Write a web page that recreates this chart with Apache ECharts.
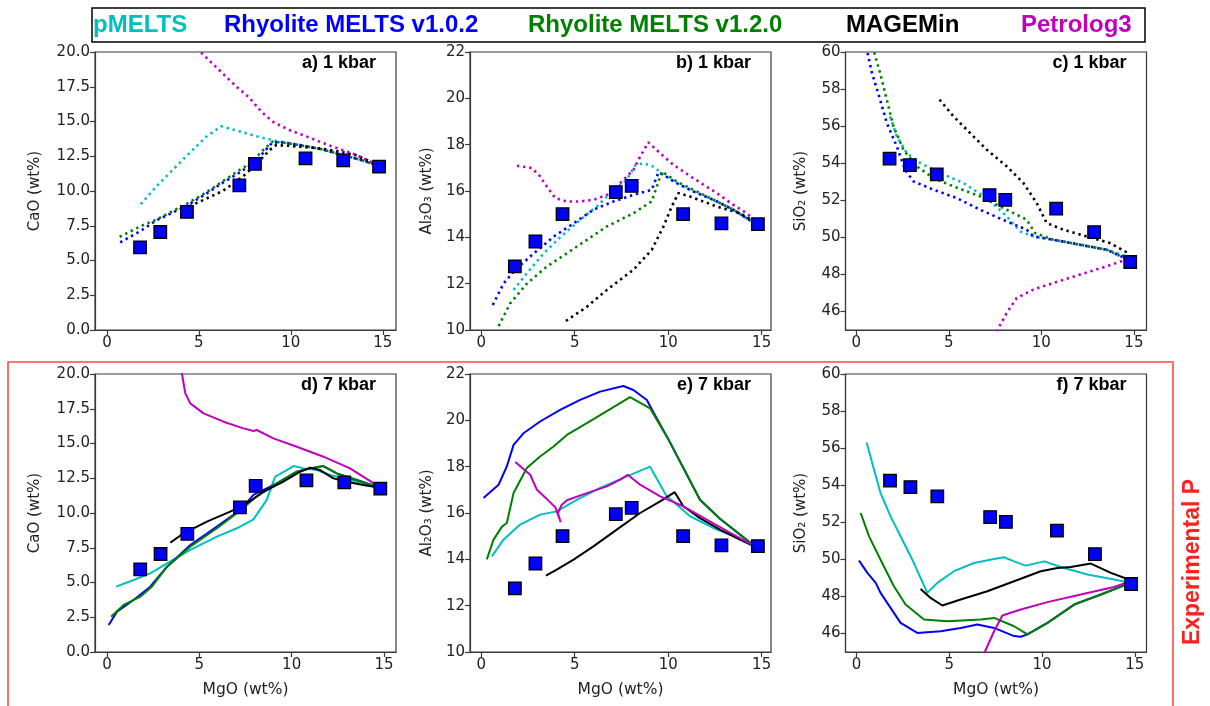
<!DOCTYPE html>
<html>
<head>
<meta charset="utf-8">
<script src="https://cdn.jsdelivr.net/npm/echarts@6/dist/echarts.min.js"></script>
<style>html,body{margin:0;padding:0;background:#fff;}#c{width:1210px;height:706px;}</style>
</head>
<body>
<div id="c"></div>
<script>
// ---------- DATA ----------
const modelNames = ['pMELTS', 'Rhyolite MELTS v1.0.2', 'Rhyolite MELTS v1.2.0', 'MAGEMin', 'Petrolog3'];
const panelLabels = ['a) 1 kbar', 'b) 1 kbar', 'c) 1 kbar', 'd) 7 kbar', 'e) 7 kbar', 'f) 7 kbar'];
const xTicks = [0, 5, 10, 15];
const caoTicks = [0, 2.5, 5, 7.5, 10, 12.5, 15, 17.5, 20];
const al2o3Ticks = [10, 12, 14, 16, 18, 20, 22];
const sio2Ticks = [46, 48, 50, 52, 54, 56, 58, 60];

// Experimental data
const expMgO = [1.8, 2.9, 4.35, 7.2, 8.05, 10.8, 12.85, 14.8];
const expCaO = [5.95, 7.05, 8.5, 10.4, 11.95, 12.35, 12.2, 11.75];
const expAl2O3 = [12.75, 13.82, 15.0, 15.95, 16.22, 15.0, 14.6, 14.57];
const expSiO2 = [54.25, 53.9, 53.4, 52.28, 52.02, 51.55, 50.28, 48.67];

// a) CaO 1 kbar
const cao1_pMELTS = [[1.84,9.05],[2.7,10.35],[3.6,11.55],[4.5,12.75],[5.4,13.9],[6.2,14.65],[7.2,14.3],[8.1,13.95],[9.2,13.6],[10.3,13.35],[11.7,13.0],[12.8,12.6],[13.9,12.25],[14.8,11.85]];
const cao1_rm102 = [[0.72,6.3],[1.8,7.1],[2.7,7.9],[4.3,8.9],[5.4,9.8],[6.3,10.6],[7.3,11.4],[8.1,12.15],[8.6,12.9],[9.0,13.5],[9.5,13.5],[10.5,13.3],[11.7,13.0],[12.8,12.6],[13.9,12.2],[14.8,11.8]];
const cao1_rm120 = [[0.69,6.7],[1.8,7.45],[2.7,7.95],[4.3,9.05],[5.4,9.9],[6.3,10.7],[7.2,11.5],[7.8,12.0],[8.5,12.95],[9.0,13.55],[9.5,13.5],[10.5,13.3],[11.7,13.0],[12.8,12.6],[13.9,12.2],[14.8,11.8]];
const cao1_mage = [[4.5,8.9],[5.4,9.45],[6.3,10.0],[7.4,11.05],[8.1,11.9],[8.85,12.95],[9.2,13.3],[9.9,13.25],[10.8,13.15],[11.7,13.05],[12.6,12.85],[13.5,12.6],[14.2,12.2],[14.8,11.8]];
const cao1_petro = [[4.9,20.3],[5.2,19.85],[6.3,18.45],[7.05,17.5],[7.75,16.7],[8.4,15.7],[9.0,15.0],[9.9,14.4],[10.8,13.95],[11.75,13.45],[12.8,12.95],[13.55,12.6],[14.25,12.15],[14.8,11.8]];

// b) Al2O3 1 kbar
const al1_pMELTS = [[1.73,11.73],[2.44,12.45],[3.33,13.3],[4.22,14.0],[5.29,14.75],[6.18,15.33],[6.9,15.9],[7.79,16.5],[8.23,17.1],[8.68,17.2],[9.21,17.05],[9.75,16.7],[10.46,16.34],[11.35,15.98],[12.42,15.62],[13.49,15.19],[14.6,14.62]];
const al1_rm102 = [[0.62,11.08],[1.19,12.0],[1.82,12.6],[2.8,13.3],[3.87,14.03],[4.94,14.6],[6.0,15.19],[7.07,15.55],[8.14,15.83],[9.12,16.05],[9.48,16.8],[9.75,16.7],[10.46,16.34],[11.35,15.98],[12.42,15.62],[13.49,15.19],[14.6,14.62]];
const al1_rm120 = [[0.93,10.17],[1.55,11.15],[2.44,12.0],[3.51,12.74],[4.58,13.31],[5.65,13.89],[6.72,14.47],[8.14,15.04],[9.12,15.55],[9.39,16.19],[9.66,16.84],[10.46,16.41],[11.7,15.91],[13.49,15.19],[14.6,14.62]];
const al1_mage = [[4.53,10.39],[5.65,11.0],[6.72,11.73],[8.14,12.6],[9.12,13.46],[9.75,14.47],[10.19,15.33],[10.55,15.91],[11.17,15.76],[12.6,15.33],[13.84,15.04],[14.64,14.68]];
const al1_petro = [[1.91,17.09],[2.71,16.99],[3.15,16.63],[3.51,16.19],[3.96,15.69],[4.58,15.55],[5.29,15.55],[6.0,15.62],[6.72,15.83],[7.43,16.34],[8.14,16.91],[8.5,17.49],[8.94,18.1],[9.57,17.63],[10.28,17.13],[11.35,16.55],[12.6,15.91],[13.49,15.4],[14.2,15.04],[14.73,14.68]];

// c) SiO2 1 kbar
const si1_pMELTS = [[1.83,56.53],[2.19,55.45],[2.73,54.55],[3.45,54.01],[4.53,53.47],[5.79,52.93],[7.05,52.12],[8.13,51.13],[8.85,50.32],[9.57,50.05],[10.65,49.87],[12.09,49.6],[13.53,49.33],[14.6,48.97],[14.8,48.75]];
const si1_rm102 = [[0.61,59.95],[0.85,58.87],[1.29,57.43],[1.65,56.17],[2.19,54.91],[2.64,53.65],[3.09,53.02],[4.17,52.57],[5.43,52.12],[6.69,51.49],[8.13,50.86],[9.21,50.41],[9.57,50.05],[10.65,49.87],[12.09,49.6],[13.53,49.33],[14.8,48.75]];
const si1_rm120 = [[0.97,59.98],[1.29,58.87],[1.65,57.43],[2.01,55.99],[2.55,54.73],[3.27,53.83],[4.17,53.2],[5.25,52.75],[6.69,52.21],[8.13,51.49],[9.21,50.95],[9.66,50.23],[10.65,49.87],[12.09,49.6],[13.53,49.33],[14.8,48.75]];
const si1_mage = [[4.5,57.43],[5.25,56.53],[6.15,55.63],[7.05,54.73],[8.13,53.83],[9.03,52.93],[9.75,51.85],[10.29,50.77],[11.19,50.41],[12.45,50.05],[13.71,49.69],[14.69,49.15]];
const si1_petro = [[7.45,44.6],[7.68,45.1],[8.13,45.92],[8.67,46.73],[9.57,47.18],[10.65,47.54],[12.09,47.99],[13.53,48.44],[14.6,48.8]];

// d) CaO 7 kbar
const cao7_pMELTS = [[0.5,4.7],[1.44,5.18],[2.34,5.66],[3.25,6.38],[4.51,7.34],[5.95,8.3],[7.03,8.9],[7.93,9.54],[8.65,10.94],[9.1,12.6],[9.73,13.09],[10.1,13.38],[10.64,13.21],[11.36,13.09],[12.08,12.73],[13.16,12.37],[14.24,12.01],[14.78,11.77]];
const cao7_rm102 = [[0.09,1.94],[0.54,2.9],[1.44,3.74],[2.34,4.7],[3.25,6.14],[4.51,7.7],[5.95,9.02],[7.21,10.22],[7.93,11.3],[9.19,12.13],[10.28,12.97],[11.0,13.21],[11.72,13.38],[12.44,12.85],[13.52,12.37],[14.78,11.82]];
const cao7_rm120 = [[0.22,2.54],[0.9,3.38],[1.8,3.98],[2.43,4.7],[3.25,6.14],[4.51,7.58],[5.95,8.9],[7.03,9.98],[8.11,11.18],[9.19,12.13],[10.28,12.97],[11.0,13.21],[11.72,13.38],[12.44,12.85],[13.52,12.37],[14.78,11.82]];
const cao7_mage = [[3.43,7.87],[4.15,8.54],[5.41,9.38],[6.67,10.1],[7.57,10.7],[8.47,11.53],[9.55,12.25],[10.46,12.97],[11.0,13.26],[11.54,13.09],[12.26,12.49],[12.98,12.25],[13.88,12.01],[14.78,11.82]];
const cao7_petro = [[3.95,21],[4.06,20],[4.24,18.61],[4.51,17.89],[5.23,17.17],[6.31,16.57],[7.39,16.09],[7.93,15.9],[8.11,15.97],[9.01,15.37],[10.28,14.77],[11.72,14.05],[13.16,13.21],[14.6,12.01],[14.78,11.82]];

// e) Al2O3 7 kbar
const al7_pMELTS = [[0.57,14.13],[1.19,14.85],[2.08,15.5],[3.15,15.93],[4.04,16.07],[5.11,16.57],[6.36,17.08],[7.79,17.58],[9.03,18.0],[9.92,16.72],[10.19,16.55],[11.17,15.86],[12.6,15.28],[13.49,15.0],[14.56,14.56]];
const al7_rm102 = [[0.12,16.65],[0.93,17.22],[1.37,18.01],[1.73,18.94],[2.26,19.44],[3.15,19.95],[4.22,20.45],[5.29,20.88],[6.36,21.24],[7.6,21.48],[8.14,21.31],[8.86,20.88],[9.21,20.35],[10.0,19.2],[11.7,16.57],[12.77,15.75],[14.64,14.56]];
const al7_rm120 = [[0.3,14.0],[0.66,14.85],[1.1,15.4],[1.37,15.57],[1.73,16.86],[2.44,17.94],[3.15,18.44],[3.87,18.87],[4.58,19.37],[5.65,19.88],[6.72,20.4],[7.96,21.0],[9.03,20.52],[10.0,19.2],[11.7,16.57],[12.77,15.75],[14.64,14.56]];
const al7_mage = [[3.46,13.3],[4.04,13.56],[4.94,13.99],[6.0,14.56],[7.25,15.28],[8.5,16.0],[9.57,16.5],[10.35,16.9],[10.81,16.29],[11.7,15.78],[12.77,15.28],[13.84,14.85],[14.64,14.56]];
const al7_petro = [[1.82,18.2],[2.62,17.65],[2.98,17.0],[3.51,16.6],[3.96,16.25],[4.25,15.6],[4.1,16.0],[4.3,16.35],[4.58,16.55],[5.65,16.86],[6.72,17.15],[7.43,17.44],[7.84,17.65],[8.5,17.22],[9.57,16.72],[10.81,16.29],[12.06,15.71],[13.49,15.07],[14.64,14.56]];

// f) SiO2 7 kbar
const si7_pMELTS = [[0.54,56.3],[0.94,54.83],[1.29,53.57],[1.83,52.32],[2.55,50.88],[3.09,49.8],[3.81,48.19],[4.35,48.73],[5.25,49.36],[6.33,49.8],[7.41,50.02],[7.95,50.11],[8.49,49.89],[9.12,49.66],[10.11,49.89],[11.19,49.53],[12.45,49.18],[13.88,48.91],[14.78,48.73]];
const si7_rm102 = [[0.13,49.93],[0.58,49.27],[1.03,48.73],[1.29,48.19],[1.83,47.38],[2.37,46.57],[3.27,46.03],[4.53,46.12],[5.61,46.3],[6.51,46.48],[7.41,46.3],[8.49,45.86],[8.85,45.82],[9.21,45.95],[10.29,46.57],[11.73,47.56],[13.17,48.1],[14.78,48.73]];
const si7_rm120 = [[0.22,52.5],[0.67,51.24],[1.29,49.98],[2.01,48.55],[2.64,47.56],[3.63,46.75],[4.89,46.66],[6.69,46.75],[7.41,46.84],[8.49,46.39],[9.21,45.95],[10.29,46.57],[11.73,47.56],[13.17,48.1],[14.78,48.73]];
const si7_mage = [[3.45,48.4],[3.99,47.92],[4.62,47.51],[5.61,47.83],[7.05,48.28],[8.49,48.82],[9.93,49.36],[10.83,49.53],[11.55,49.59],[12.63,49.77],[13.71,49.27],[14.78,48.87]];
const si7_petro = [[6.75,44.6],[6.91,45.0],[7.41,46.12],[7.86,46.97],[8.85,47.29],[10.29,47.69],[12.09,48.1],[13.88,48.51],[14.78,48.82]];

// ---------- BUILD ----------
const colors = ['#00bfbf', '#0000ff', '#008000', '#000000', '#bf00bf'];
const panels = [
  {models:[cao1_pMELTS,cao1_rm102,cao1_rm120,cao1_mage,cao1_petro], exp:expCaO, yName:'CaO (wt%)', yMin:0, yMax:20, yTicks:caoTicks, dec:1, xMin:-0.65, xMax:15.72, dotted:true, nameGap:52},
  {models:[al1_pMELTS,al1_rm102,al1_rm120,al1_mage,al1_petro], exp:expAl2O3, yName:'Al₂O₃ (wt%)', yMin:10, yMax:22, yTicks:al2o3Ticks, dec:0, xMin:-0.6, xMax:15.5, dotted:true, nameGap:35},
  {models:[si1_pMELTS,si1_rm102,si1_rm120,si1_mage,si1_petro], exp:expSiO2, yName:'SiO₂ (wt%)', yMin:45, yMax:60, yTicks:sio2Ticks, dec:0, xMin:-0.58, xMax:15.68, dotted:true, nameGap:37},
  {models:[cao7_pMELTS,cao7_rm102,cao7_rm120,cao7_mage,cao7_petro], exp:expCaO, yName:'CaO (wt%)', yMin:0, yMax:20, yTicks:caoTicks, dec:1, xMin:-0.65, xMax:15.65, dotted:false, nameGap:52},
  {models:[al7_pMELTS,al7_rm102,al7_rm120,al7_mage,al7_petro], exp:expAl2O3, yName:'Al₂O₃ (wt%)', yMin:10, yMax:22, yTicks:al2o3Ticks, dec:0, xMin:-0.6, xMax:15.5, dotted:false, nameGap:35},
  {models:[si7_pMELTS,si7_rm102,si7_rm120,si7_mage,si7_petro], exp:expSiO2, yName:'SiO₂ (wt%)', yMin:45, yMax:60, yTicks:sio2Ticks, dec:0, xMin:-0.6, xMax:15.63, dotted:false, nameGap:37}
];
const colLeft = [95, 470, 845.5];
const rowTop = [52, 374];
const gw = 301, gh = 278;
const axisColor = '#3a3a3a';
const tickFont = {fontFamily:'DejaVu Sans', fontSize:15, color:'#222'};

const grids = [], xAxes = [], yAxes = [], series = [], graphics = [];
panels.forEach((p, i) => {
  const col = i % 3, row = Math.floor(i / 3);
  grids.push({left:colLeft[col], top:rowTop[row], width:gw, height:gh, show:true, borderColor:axisColor, borderWidth:1.2, backgroundColor:'transparent', containLabel:false});
  xAxes.push({
    type:'value', gridIndex:i, min:p.xMin, max:p.xMax,
    name: row === 1 ? 'MgO (wt%)' : '', nameLocation:'middle', nameGap:30,
    nameTextStyle:{fontFamily:'DejaVu Sans', fontSize:15.5, color:'#222'},
    axisLine:{show:true, onZero:false, lineStyle:{color:axisColor, width:1.2}},
    axisTick:{show:true, length:5, customValues:xTicks, lineStyle:{color:axisColor, width:1.2}},
    axisLabel:Object.assign({customValues:xTicks, margin:6}, tickFont),
    splitLine:{show:false}
  });
  yAxes.push({
    type:'value', gridIndex:i, min:p.yMin, max:p.yMax,
    name:p.yName, nameLocation:'middle', nameGap:p.nameGap,
    nameTextStyle:{fontFamily:'DejaVu Sans', fontSize:15, color:'#222'},
    axisLine:{show:true, onZero:false, lineStyle:{color:axisColor, width:1.2}},
    axisTick:{show:true, length:5, customValues:p.yTicks, lineStyle:{color:axisColor, width:1.2}},
    axisLabel:Object.assign({customValues:p.yTicks, margin:5, formatter:(v)=>Number(v).toFixed(p.dec)}, tickFont),
    splitLine:{show:false}
  });
  p.models.forEach((d, m) => {
    series.push({
      type:'line', name:modelNames[m], xAxisIndex:i, yAxisIndex:i, data:d,
      showSymbol:false, symbol:'none', clip:true, silent:true, z:2+m,
      lineStyle: p.dotted ? {color:colors[m], width:2.6, type:[2.4,3.8], cap:'butt'} : {color:colors[m], width:2},
      animation:false
    });
  });
  series.push({
    type:'scatter', name:'Experiment', xAxisIndex:i, yAxisIndex:i,
    data: expMgO.map((x, k) => [x, p.exp[k]]),
    symbol:'rect', symbolSize:12.5, z:10,
    itemStyle:{color:'#0000ff', opacity:1, borderColor:'#000', borderWidth:1.3},
    animation:false
  });
  graphics.push({
    type:'text', x:colLeft[col] + gw - 20, y:rowTop[row] + 11,
    style:{text:panelLabels[i], fontFamily:'Liberation Sans', fontWeight:'bold', fontSize:18, fill:'#000', textAlign:'right', textVerticalAlign:'middle'}
  });
});

// legend box and texts
graphics.push({type:'rect', shape:{x:92, y:8, width:1053, height:34}, style:{fill:'none', stroke:'#000', lineWidth:1.5}});
const legendX = [93, 224, 528, 846, 1021];
modelNames.forEach((n, m) => {
  graphics.push({type:'text', x:legendX[m], y:25, style:{text:n, fontFamily:'Liberation Sans', fontWeight:'bold', fontSize:24, fill:colors[m], textAlign:'left', textVerticalAlign:'middle'}});
});
// red experimental box
graphics.push({type:'rect', shape:{x:8, y:362, width:1165, height:370}, style:{fill:'none', stroke:'#ff4a4a', lineWidth:1.6}});
graphics.push({type:'text', x:1193, y:562, rotation:Math.PI/2, style:{text:'Experimental P', fontFamily:'Liberation Sans', fontWeight:'bold', fontSize:23, fill:'#ff2020', textAlign:'center', textVerticalAlign:'middle'}});

const chart = echarts.init(document.getElementById('c'), null, {renderer:'canvas'});
chart.setOption({
  animation:false,
  backgroundColor:'#fff',
  grid:grids, xAxis:xAxes, yAxis:yAxes, series:series,
  graphic:graphics
});
</script>
</body>
</html>
